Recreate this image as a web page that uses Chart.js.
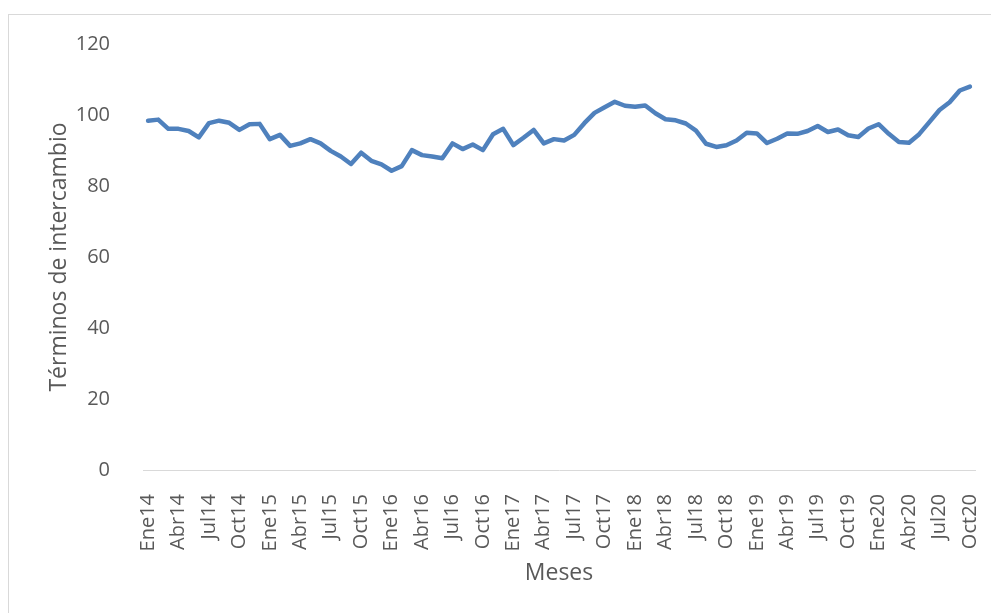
<!DOCTYPE html>
<html>
<head>
<meta charset="utf-8">
<script src="https://cdn.jsdelivr.net/npm/chart.js@4/dist/chart.umd.min.js"></script>
<style>
    html, body { margin: 0; padding: 0; background: #fff; overflow: hidden; }
    #frame {
        position: absolute; left: 8px; top: 14px;
        width: 1100px; height: 700px;
        border: 1px solid #d9d9d9;
    }
    #chart { position: absolute; left: 0; top: 0; }
</style>
</head>
<body>
<div id="frame"></div>
<canvas id="chart" width="991" height="613"></canvas>
<script>
// Months Ene14 .. Oct20
const months = [
    'Ene14','Feb14','Mar14','Abr14','May14','Jun14','Jul14','Ago14','Sep14','Oct14','Nov14','Dic14',
    'Ene15','Feb15','Mar15','Abr15','May15','Jun15','Jul15','Ago15','Sep15','Oct15','Nov15','Dic15',
    'Ene16','Feb16','Mar16','Abr16','May16','Jun16','Jul16','Ago16','Sep16','Oct16','Nov16','Dic16',
    'Ene17','Feb17','Mar17','Abr17','May17','Jun17','Jul17','Ago17','Sep17','Oct17','Nov17','Dic17',
    'Ene18','Feb18','Mar18','Abr18','May18','Jun18','Jul18','Ago18','Sep18','Oct18','Nov18','Dic18',
    'Ene19','Feb19','Mar19','Abr19','May19','Jun19','Jul19','Ago19','Sep19','Oct19','Nov19','Dic19',
    'Ene20','Feb20','Mar20','Abr20','May20','Jun20','Jul20','Ago20','Sep20','Oct20'
];

// Términos de intercambio (index)
const terminos = [
    98.4, 98.7, 96.1, 96.1, 95.5, 93.7, 97.7, 98.4, 97.8, 95.8, 97.4, 97.5,
    93.2, 94.4, 91.3, 92.0, 93.2, 92.0, 89.9, 88.3, 86.2, 89.4, 87.1, 86.1,
    84.3, 85.6, 90.1, 88.7, 88.3, 87.8, 92.0, 90.4, 91.7, 90.1, 94.6, 96.1,
    91.5, 93.6, 95.8, 92.0, 93.2, 92.8, 94.4, 97.7, 100.6, 102.2, 103.7, 102.6,
    102.3, 102.7, 100.5, 98.8, 98.5, 97.6, 95.6, 91.9, 91.0, 91.5, 92.8, 95.0,
    94.8, 92.1, 93.3, 94.8, 94.7, 95.5, 96.9, 95.2, 95.9, 94.3, 93.8, 96.2,
    97.4, 94.7, 92.4, 92.2, 94.6, 98.0, 101.4, 103.6, 106.9, 108.0
];

const yTicks = [0, 20, 40, 60, 80, 100, 120];
const labelEvery = 3;

const textColor = '#595959';
const fontFamily = "'Open Sans', sans-serif";

const ctx = document.getElementById('chart').getContext('2d');

new Chart(ctx, {
    type: 'line',
    data: {
        labels: months,
        datasets: [{
            label: 'Términos de intercambio',
            data: terminos,
            borderColor: '#4f81bd',
            borderWidth: 4.5,
            borderJoinStyle: 'round',
            borderCapStyle: 'round',
            tension: 0,
            pointRadius: 0,
            fill: false
        }]
    },
    options: {
        responsive: false,
        animation: false,
        devicePixelRatio: 1,
        layout: {
            padding: { left: 42, top: 44, right: 16, bottom: 22 }
        },
        plugins: {
            legend: { display: false },
            tooltip: { enabled: false }
        },
        scales: {
            x: {
                type: 'category',
                offset: true,
                grid: { display: false },
                border: { display: true, color: '#d9d9d9', width: 1 },
                ticks: {
                    autoSkip: false,
                    minRotation: 90,
                    maxRotation: 90,
                    padding: 16,
                    color: textColor,
                    font: { family: fontFamily, size: 20 },
                    callback: function(value, index) {
                        return index % labelEvery === 0 ? this.getLabelForValue(value) : '';
                    }
                },
                title: {
                    display: true,
                    text: 'Meses',
                    color: textColor,
                    font: { family: fontFamily, size: 23 },
                    padding: { top: 4, bottom: 4 }
                },
                afterFit: (scale) => {
                    scale.height = 121;
                    scale.paddingLeft = 0;
                    scale.paddingRight = 0;
                }
            },
            y: {
                min: yTicks[0],
                max: yTicks[yTicks.length - 1],
                grid: { display: false },
                border: { display: false },
                afterBuildTicks: (scale) => {
                    scale.ticks = yTicks.map(v => ({ value: v }));
                },
                ticks: {
                    padding: 25,
                    color: textColor,
                    font: { family: fontFamily, size: 20 }
                },
                title: {
                    display: true,
                    text: 'Términos de intercambio',
                    color: textColor,
                    font: { family: fontFamily, size: 23 },
                    padding: { top: 4, bottom: 4 }
                },
                afterFit: (scale) => {
                    scale.width = 101;
                }
            }
        }
    }
});
</script>
</body>
</html>
